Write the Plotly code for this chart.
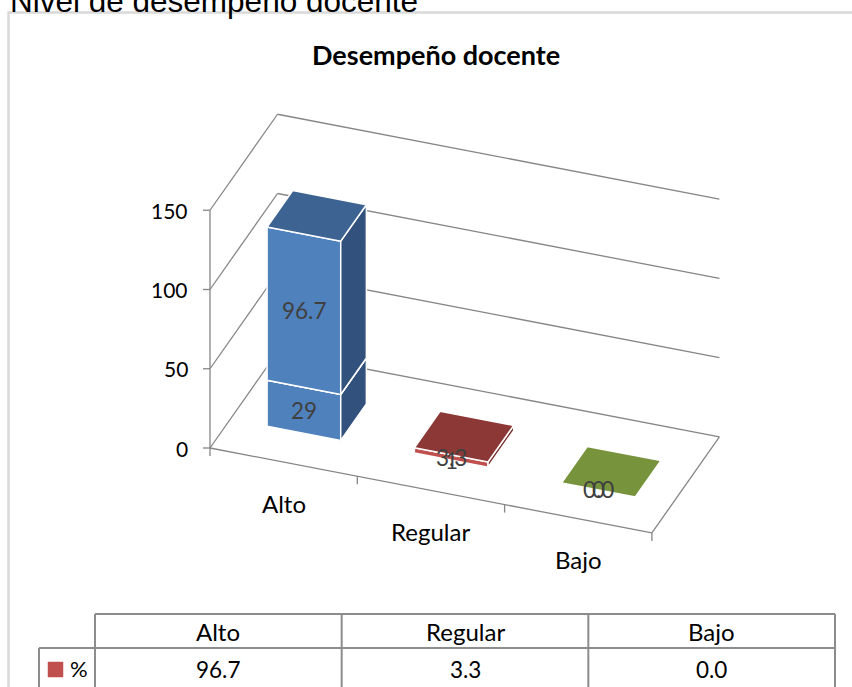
import plotly.graph_objects as go

# ---------------- data ----------------
categories = ["Alto", "Regular", "Bajo"]
n_values = [29, 1, 0]            # first stacked series (count)
pct_values = [96.7, 3.3, 0.0]    # second stacked series (%)
y_ticks = [0, 50, 100, 150]
chart_title = "Desempeño docente"
page_title = "Nivel de desempeño docente"
table_row_label = "%"

# ---------------- styles ----------------
front_colors = ["#4F81BD", "#C0504D", "#9BBB59"]
top_colors = ["#3C6392", "#8C3836", "#77933C"]
side_colors = ["#32517D", "#7A302E", "#677F34"]
GRID = "#868686"
TABLE_LINE = "#8C8C8C"
FONT = "Lato"
LABEL_COLOR = "#404040"

W, H = 852, 687

# oblique 3D projection of (category position u, depth w, value v) -> page coords
X0, Y0 = 210.0, 448.0
UX, UY = 147.3, 28.3
WX, WY = 67.5, -96.0
VY = -1.585
V_MAX = max(y_ticks)
N_CAT = len(categories)
BAR_U0, BAR_U1 = 0.25, 0.75
BAR_W0, BAR_W1 = 0.30, 0.68


def P(u, w, v):
    return X0 + u * UX + w * WX, Y0 + u * UY + w * WY + v * VY


fig = go.Figure()


def add_lines(segments, color, width):
    xs, ys = [], []
    for seg in segments:
        for (x, y) in seg:
            xs.append(x)
            ys.append(y)
        xs.append(None)
        ys.append(None)
    fig.add_trace(go.Scatter(x=xs, y=ys, mode="lines",
                             line=dict(color=color, width=width),
                             hoverinfo="skip", showlegend=False))


def add_poly(pts, fill, edge="white", ew=1.5):
    xs = [p[0] for p in pts] + [pts[0][0]]
    ys = [p[1] for p in pts] + [pts[0][1]]
    fig.add_trace(go.Scatter(x=xs, y=ys, mode="lines", fill="toself",
                             fillcolor=fill, line=dict(color=edge, width=ew),
                             hoverinfo="skip", showlegend=False))


# ---------------- walls / gridlines ----------------
grid = []
for v in y_ticks:
    grid.append([P(0, 0, v), P(0, 1, v)])        # side wall
    grid.append([P(0, 1, v), P(N_CAT, 1, v)])    # back wall
grid.append([P(0, 0, 0), P(N_CAT, 0, 0)])        # floor front edge
grid.append([P(N_CAT, 0, 0), P(N_CAT, 1, 0)])    # floor right edge
grid.append([P(0, 0, 0), P(0, 0, V_MAX)])        # value axis
for v in y_ticks:                                # value ticks
    x, y = P(0, 0, v)
    grid.append([(x - 7, y), (x, y)])
for i in range(N_CAT + 1):                       # category ticks
    x, y = P(i, 0, 0)
    grid.append([(x, y), (x, y + 8)])
add_lines(grid, GRID, 1.3)

# ---------------- bars ----------------
for i in range(N_CAT):
    u0, u1 = i + BAR_U0, i + BAR_U1
    segs = [(0, n_values[i]), (n_values[i], n_values[i] + pct_values[i])]
    for lo, hi in segs:
        front = [P(u0, BAR_W0, lo), P(u1, BAR_W0, lo), P(u1, BAR_W0, hi), P(u0, BAR_W0, hi)]
        side = [P(u1, BAR_W0, lo), P(u1, BAR_W1, lo), P(u1, BAR_W1, hi), P(u1, BAR_W0, hi)]
        top = [P(u0, BAR_W0, hi), P(u1, BAR_W0, hi), P(u1, BAR_W1, hi), P(u0, BAR_W1, hi)]
        add_poly(front, front_colors[i])
        add_poly(side, side_colors[i])
        add_poly(top, top_colors[i])

annotations = []


def txt(x, y, s, size, color="#000000", xanchor="center", bold=False, family=FONT,
        yref="y", xref="x", yanchor="middle"):
    annotations.append(dict(
        x=x, y=y, xref=xref, yref=yref, text=("<b>%s</b>" % s) if bold else s,
        showarrow=False, xanchor=xanchor, yanchor=yanchor,
        font=dict(family=family, size=size, color=color)))


# data labels
for i in range(N_CAT):
    xm, ym = P(i + 0.5, BAR_W0, n_values[i] / 2)
    txt(xm, ym, "%d" % n_values[i], 22.5, LABEL_COLOR)
for i in range(N_CAT):
    xm, ym = P(i + 0.5, BAR_W0, n_values[i] + pct_values[i] / 2)
    txt(xm, ym, "%.1f" % pct_values[i], 22.5, LABEL_COLOR)

# value tick labels
for v in y_ticks:
    x, y = P(0, 0, v)
    txt(x - 20, y, str(v), 21, "#000000", xanchor="right")

# category labels
for i, c in enumerate(categories):
    x, y = P(i + 0.5, 0, 0)
    txt(x, y + 41, c, 24)

# chart title
txt(436, 54, chart_title, 27, bold=True)

# page heading (partially cut off at the top)
txt(8 / W, 1 - 21 / H, page_title, 31.5, family="Liberation Sans", xref="paper",
    yref="paper", xanchor="left", yanchor="bottom")

# ---------------- data table ----------------
T_LEFT, T_ROWHDR = 39, 95
col_w = (835 - T_ROWHDR) / N_CAT
T_TOP, T_MID, T_BOT = 614, 648, 700
tl = [[(T_ROWHDR, T_TOP), (835, T_TOP)], [(T_LEFT, T_MID), (835, T_MID)],
      [(T_LEFT, T_MID), (T_LEFT, T_BOT)]]
for k in range(N_CAT + 1):
    x = T_ROWHDR + k * col_w
    tl.append([(x, T_TOP), (x, T_BOT)])
add_lines(tl, TABLE_LINE, 2)
for k, c in enumerate(categories):
    xc = T_ROWHDR + (k + 0.5) * col_w
    txt(xc, 631, c, 24)
    txt(xc, 669, "%.1f" % pct_values[k], 22.5)
add_poly([(48, 662), (63, 662), (63, 677), (48, 677)], "#C0504D", edge="#C0504D", ew=0.5)
txt(79, 668, table_row_label, 22)

fig.update_layout(
    width=W, height=H, margin=dict(l=0, r=0, t=0, b=0, pad=0),
    paper_bgcolor="white", plot_bgcolor="white", showlegend=False,
    xaxis=dict(range=[0, W], visible=False, fixedrange=True),
    yaxis=dict(range=[H, 0], visible=False, fixedrange=True),
    annotations=annotations,
    shapes=[dict(type="rect", xref="x", yref="y", x0=8.5, y0=12.5, x1=W + 20, y1=H + 20,
                 line=dict(color="#D9D9D9", width=2.5), layer="below")],
)

fig.write_html("out.html", config={"displayModeBar": False},
               post_script="document.body.style.margin='0';document.body.style.overflow='hidden';")
